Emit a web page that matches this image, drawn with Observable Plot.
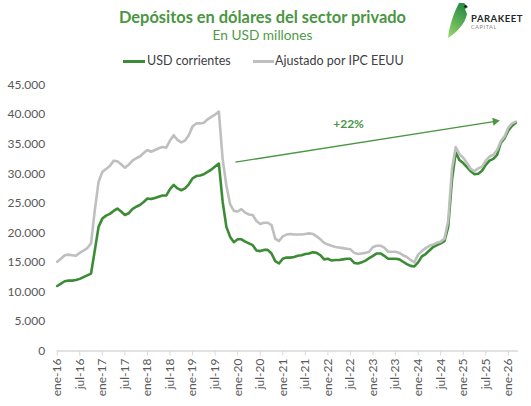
<!DOCTYPE html>
<html><head><meta charset="utf-8">
<script src="https://cdn.jsdelivr.net/npm/d3@7"></script>
<script src="https://cdn.jsdelivr.net/npm/@observablehq/plot@0.6"></script>
<style>
body{margin:0;background:#fff;font-family:Lato,"Open Sans",sans-serif;}
#wrap{position:relative;width:531px;height:406px;overflow:hidden;background:#fff}
#title{position:absolute;left:0;width:525px;top:7px;text-align:center;font-weight:700;font-size:16.4px;line-height:19px;color:#4a9642}
#subtitle{position:absolute;left:0;width:525px;top:27px;text-align:center;font-size:13.7px;line-height:16px;color:#4f9a46}
.lg{position:absolute;top:53px;font-size:12.5px;line-height:16px;color:#404040;white-space:nowrap}
.sw{position:absolute;top:60px;height:3px}
#logo{position:absolute;left:440px;top:0}
#chart{position:absolute;left:0;top:70px}
</style></head>
<body>
<div id="wrap">
  <div id="title">Depósitos en dólares del sector privado</div>
  <div id="subtitle">En USD millones</div>
  <div class="sw" style="left:123px;width:22px;background:#3b8c34"></div>
  <div class="lg" style="left:147px">USD corrientes</div>
  <div class="sw" style="left:253px;width:21px;background:#bfbfbf"></div>
  <div class="lg" style="left:275px">Ajustado por IPC EEUU</div>
  <svg id="logo" width="91" height="42" viewBox="0 0 91 42">
    <defs><linearGradient id="bg" x1="0" y1="1" x2="0.4" y2="0">
      <stop offset="0" stop-color="#9ad86d"/><stop offset="1" stop-color="#2f8f45"/></linearGradient></defs>
    <path d="M8,38 C9,28 12,18 16,9 L19,3 L24,3 L28,7 L25,9 L27,14 C25,24 17,32 8,38 Z" fill="url(#bg)"/>
    <circle cx="25.5" cy="6.5" r="1.3" fill="#111"/>
    <text x="31" y="22" font-family="Lato,sans-serif" font-weight="700" font-size="9.5" letter-spacing="0.5" fill="#1e2a2a">PARAKEET</text>
    <text x="31" y="29" font-family="Lato,sans-serif" font-size="5.5" letter-spacing="0.6" fill="#888">CAPITAL</text>
  </svg>
  <div id="chart"></div>
</div>
<script>
// Monthly data, ene-16 .. mar-26 (USD millones)
const usdCorrientes = [
  11000,11400,11800,11900,11900,12000,12200,12500,12800,13100,
  17000,21000,22400,22900,23200,23700,24100,23600,23000,23300,
  24000,24400,24700,25200,25800,25700,25900,26100,26300,26300,
  27400,28100,27500,27200,27500,28200,29200,29600,29700,29900,
  30300,30700,31200,31700,25300,21000,19300,18400,18900,18900,
  18500,18200,17900,17000,16900,17100,17100,16500,15200,14800,
  15600,15800,15800,15900,16100,16200,16400,16500,16700,16600,
  16200,15500,15600,15300,15400,15400,15500,15600,15600,14900,
  14800,15000,15300,15700,16100,16500,16500,16100,15600,15600,
  15600,15500,15100,14700,14400,14300,15000,16000,16400,17000,
  17600,17900,18200,18600,21000,28900,33600,32300,31800,31100,
  30400,29900,30000,30500,31500,32200,32500,33200,35200,36000,
  37300,38100,38600
];
const ajustadoIPC = [
  15100,15600,16200,16300,16200,16100,16600,17000,17400,18200,
  23800,28600,30300,30800,31300,32200,32100,31600,31000,31500,
  32200,32600,32900,33500,34000,33700,34000,34300,34500,34400,
  35600,36500,35700,35300,35600,36500,38000,38500,38500,38600,
  39200,39600,40000,40500,32500,28000,24800,23700,23600,24000,
  23400,23100,23000,22000,21500,21700,21700,21300,19000,18600,
  19400,19700,19800,19700,19700,19700,19800,19900,19800,19400,
  18900,18300,18000,17800,17600,17500,17400,17300,17200,16600,
  16400,16500,16600,16800,17600,17800,17800,17500,16800,16800,
  16800,16600,16200,15900,15400,15000,16300,16900,17400,17800,
  18000,18300,18500,19000,22000,30800,34500,33300,32700,31800,
  30800,30400,30900,31200,32200,32900,33200,34000,35500,36300,
  37800,38500,38800
];
const tickLabels = ["ene-16","jul-16","ene-17","jul-17","ene-18","jul-18","ene-19","jul-19","ene-20","jul-20",
  "ene-21","jul-21","ene-22","jul-22","ene-23","jul-23","ene-24","jul-24","ene-25","jul-25","ene-26"];
const yTicks = [0,5000,10000,15000,20000,25000,30000,35000,40000,45000];
// annotation: arrow from month index / value to month index / value
const arrowLine = [{x1: 47.4, y1: 31950, x2: 116.5, y2: 38850}];
const arrowLabel = [{x: 77.5, y: 38400, text: "+22%"}];

const green = "#3b8c34", gray = "#bfbfbf", annot = "#4a9642";
const rowsG = usdCorrientes.map((v, i) => ({i, v}));
const rowsA = ajustadoIPC.map((v, i) => ({i, v}));
const tickPos = tickLabels.map((_, k) => k * 6);
const loc = d3.formatLocale({decimal: ",", thousands: ".", grouping: [3], currency: ["$", ""]});
const fmt = loc.format(",");

const chart = Plot.plot({
  width: 531, height: 336,
  marginTop: 14.5, marginBottom: 55.5, marginLeft: 56.7, marginRight: 13,
  style: {fontFamily: "Lato, sans-serif", fontSize: "12px", color: "#595959", background: "transparent"},
  x: {type: "linear", domain: [0, 122.7], label: null},
  y: {domain: [0, 45000], label: null},
  marks: [
    Plot.ruleY([0], {stroke: "#d9d9d9", strokeWidth: 1.5}),
    Plot.axisX({ticks: tickPos, tickFormat: d => tickLabels[Math.round(d / 6)], tickRotate: -90,
      tickSize: 5, tickPadding: 2.5, stroke: "#d9d9d9", fill: "#595959", fontSize: 12, label: null}),
    Plot.axisY({ticks: yTicks, tickFormat: fmt, tickSize: 0, tickPadding: 12, fill: "#595959", fontSize: 12, label: null}),
    Plot.lineY(rowsG, {x: "i", y: "v", stroke: green, strokeWidth: 2.6}),
    Plot.lineY(rowsA, {x: "i", y: "v", stroke: gray, strokeWidth: 2.6}),
    Plot.link(arrowLine, {x1: "x1", y1: "y1", x2: "x2", y2: "y2", stroke: annot, strokeWidth: 1.3}),
    Plot.dot(arrowLine, {x: "x2", y: "y2", symbol: "triangle", r: 3, fill: annot, stroke: null, rotate: 81}),
    Plot.text(arrowLabel, {x: "x", y: "y", text: "text", fill: annot, fontWeight: "bold", fontSize: 12})
  ]
});
document.getElementById("chart").appendChild(chart);
</script>
</body></html>
